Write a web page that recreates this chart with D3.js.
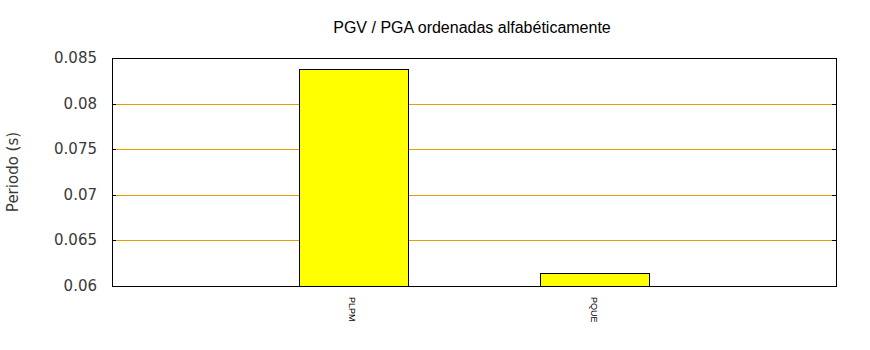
<!DOCTYPE html>
<html>
<head>
<meta charset="utf-8">
<script src="https://cdnjs.cloudflare.com/ajax/libs/d3/7.8.5/d3.min.js"></script>
<style>
	body { margin: 0; background: #fff; }
	svg { display: block; }
</style>
</head>
<body>
<div id="viz"></div>
<script>
var stations = ['PLPM', 'PQUE'];
var periods = [0.0838, 0.0614];
var yTicks = [0.06, 0.065, 0.07, 0.075, 0.08, 0.085];

buildChart();

function buildChart(){

	var width = 870,
		height = 350,
		plotLeft = 112, plotRight = 836,
		plotTop = 58, plotBottom = 286;

	var svg = d3.select('#viz')
		.append('svg')
		.attr('width', width)
		.attr('height', height);

	svg.append('rect')
		.attr('width', width)
		.attr('height', height)
		.style('fill', '#fff');

	var x = d3.scaleLinear()
		.domain([-1, stations.length])
		.range([plotLeft, plotRight]);

	var y = d3.scaleLinear()
		.domain([0.06, 0.085])
		.range([plotBottom, plotTop]);

	var barWidth = (x(1) - x(0)) * 0.45;

	function py(d){ return Math.round(y(d)) + 0.5; }

	// grid
	svg.selectAll('.grid')
		.data(yTicks.slice(1, -1))
		.enter().append('line')
			.attr('class', 'grid')
			.attr('x1', plotLeft)
			.attr('x2', plotRight)
			.attr('y1', py)
			.attr('y2', py)
			.style('stroke', '#e1a000')
			.style('stroke-width', 1);

	// tick marks inside, both sides
	svg.selectAll('.tick-l')
		.data(yTicks)
		.enter().append('line')
			.attr('x1', plotLeft)
			.attr('x2', plotLeft + 4)
			.attr('y1', py)
			.attr('y2', py)
			.style('stroke', '#000');

	svg.selectAll('.tick-r')
		.data(yTicks)
		.enter().append('line')
			.attr('x1', plotRight - 4)
			.attr('x2', plotRight)
			.attr('y1', py)
			.attr('y2', py)
			.style('stroke', '#000');

	// bars
	svg.selectAll('.bar')
		.data(periods)
		.enter().append('rect')
			.attr('class', 'bar')
			.attr('x', function(d, i){ return Math.round(x(i) - barWidth / 2) + 0.5; })
			.attr('y', py)
			.attr('width', Math.round(barWidth))
			.attr('height', function(d){ return Math.round(y(0.06)) - Math.round(y(d)); })
			.style('fill', '#ffff00')
			.style('stroke', '#000')
			.style('stroke-width', 1);

	// border
	svg.append('rect')
		.attr('x', plotLeft + 0.5)
		.attr('y', plotTop + 0.5)
		.attr('width', plotRight - plotLeft)
		.attr('height', plotBottom - plotTop)
		.style('fill', 'none')
		.style('stroke', '#000')
		.style('stroke-width', 1);

	// y tick labels
	svg.selectAll('.ylabel')
		.data(yTicks)
		.enter().append('text')
			.attr('x', 97)
			.attr('y', function(d){ return y(d) + 5; })
			.attr('text-anchor', 'end')
			.style('font-family', 'DejaVu Sans')
			.style('font-size', '15px')
			.style('fill', '#3a3a3a')
			.text(function(d){ return String(+d.toFixed(3)); });

	// x labels, rotated
	svg.selectAll('.xlabel')
		.data(stations)
		.enter().append('text')
			.attr('transform', function(d, i){ return 'translate(' + (x(i) - 4) + ',297) rotate(90)'; })
			.style('font-family', 'Liberation Sans')
			.style('font-size', '9px')
			.style('fill', '#000')
			.text(function(d){ return d; });

	// axis title
	svg.append('text')
		.attr('transform', 'translate(18,' + ((plotTop + plotBottom) / 2) + ') rotate(-90)')
		.attr('text-anchor', 'middle')
		.style('font-family', 'DejaVu Sans')
		.style('font-size', '15px')
		.style('fill', '#3a3a3a')
		.text('Periodo (s)');

	// title
	svg.append('text')
		.attr('x', (plotLeft + plotRight) / 2 - 2)
		.attr('y', 33)
		.attr('text-anchor', 'middle')
		.style('font-family', 'Liberation Sans')
		.style('font-size', '16px')
		.style('fill', '#000')
		.text('PGV / PGA ordenadas alfabéticamente');
}
</script>
</body>
</html>
